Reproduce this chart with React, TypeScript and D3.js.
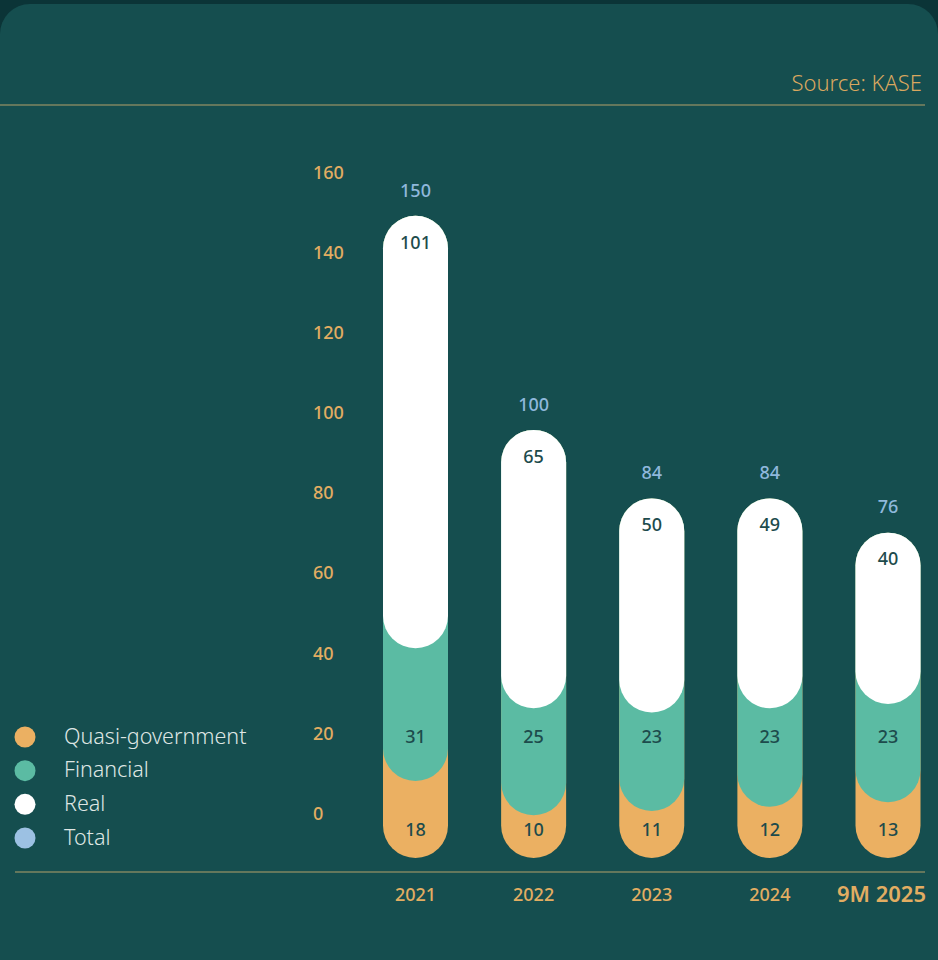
import React, { useEffect, useRef } from "react";
import * as d3 from "d3";

const categories = ["2021", "2022", "2023", "2024", "9M 2025"];
const quasiGov = [18, 10, 11, 12, 13];
const financial = [31, 25, 23, 23, 23];
const real = [101, 65, 50, 49, 40];
const totals = [150, 100, 84, 84, 76];
const yTicks = [0, 20, 40, 60, 80, 100, 120, 140, 160];
const legendItems = [
  { label: "Quasi-government", color: "#ebb062" },
  { label: "Financial", color: "#5bbba3" },
  { label: "Real", color: "#ffffff" },
  { label: "Total", color: "#9cc1e3" }
];

const W = 938;
const H = 960;
const FONT = "'Noto Sans', sans-serif";

const App: React.FC = () => {
  const svgRef = useRef<SVGSVGElement | null>(null);

  useEffect(() => {
    if (!svgRef.current) return;
    const svg = d3.select(svgRef.current);
    svg.selectAll("*").remove();

    // page background + card
    svg.append("rect").attr("width", W).attr("height", H).attr("fill", "#0b3437");
    svg.append("rect")
      .attr("x", 0).attr("y", 4)
      .attr("width", W).attr("height", H + 40)
      .attr("rx", 30)
      .attr("fill", "#154e4f");

    svg.append("text")
      .attr("x", 922).attr("y", 85)
      .attr("text-anchor", "end")
      .attr("dominant-baseline", "middle")
      .attr("font-family", FONT)
      .attr("font-size", 22)
      .attr("font-weight", 300)
      .attr("fill", "#d9a75f")
      .text("Source: KASE");

    svg.append("line")
      .attr("x1", 0).attr("x2", 925)
      .attr("y1", 105).attr("y2", 105)
      .attr("stroke", "#b3a06b").attr("stroke-width", 1.2);

    svg.append("line")
      .attr("x1", 15).attr("x2", 925)
      .attr("y1", 872).attr("y2", 872)
      .attr("stroke", "#b3a06b").attr("stroke-width", 1.2);

    // scales
    const x = d3.scalePoint<string>().domain(categories).range([415.5, 888]);
    const bw = 65;
    const y = d3.scaleLinear().domain([0, 160]).range([858, 173]);
    const yLabel = d3.scaleLinear().domain([0, 160]).range([815, 174]);

    // y tick labels
    svg.append("g")
      .selectAll("text")
      .data(yTicks)
      .enter()
      .append("text")
      .attr("x", 313)
      .attr("y", d => yLabel(d))
      .attr("dominant-baseline", "middle")
      .attr("font-family", FONT)
      .attr("font-size", 18)
      .attr("font-weight", 500)
      .attr("fill", "#e2ad62")
      .text(d => d);

    const rows = categories.map((c, i) => ({
      cat: c,
      q: quasiGov[i],
      f: financial[i],
      r: real[i],
      total: totals[i]
    }));

    const bars = svg.append("g");
    const layers = [
      { key: "q", color: "#ebb062", start: (d: any) => 0 },
      { key: "f", color: "#5bbba3", start: (d: any) => d.q },
      { key: "r", color: "#ffffff", start: (d: any) => d.q + d.f }
    ];

    layers.forEach(layer => {
      bars.selectAll(`.bar-${layer.key}`)
        .data(rows)
        .enter()
        .append("rect")
        .attr("class", `bar-${layer.key}`)
        .attr("x", d => (x(d.cat) as number) - bw / 2)
        .attr("width", bw)
        .attr("y", d => y(d.q + d.f + d.r))
        .attr("height", d => y(layer.start(d)) - y(d.q + d.f + d.r))
        .attr("rx", bw / 2)
        .attr("fill", layer.color);
    });

    const valueText = (sel: any) =>
      sel.attr("text-anchor", "middle")
        .attr("dominant-baseline", "middle")
        .attr("font-family", FONT)
        .attr("font-size", 18)
        .attr("font-weight", 500);

    // value labels
    bars.selectAll(".lbl-q").data(rows).enter().append("text")
      .call(valueText)
      .attr("x", d => x(d.cat) as number)
      .attr("y", y(0) - 27)
      .attr("fill", "#1d4b4c")
      .text(d => d.q);

    bars.selectAll(".lbl-f").data(rows).enter().append("text")
      .call(valueText)
      .attr("x", d => x(d.cat) as number)
      .attr("y", y(0) - 120)
      .attr("fill", "#1d4b4c")
      .text(d => d.f);

    bars.selectAll(".lbl-r").data(rows).enter().append("text")
      .call(valueText)
      .attr("x", d => x(d.cat) as number)
      .attr("y", d => y(d.q + d.f + d.r) + 28)
      .attr("fill", "#1d4b4c")
      .text(d => d.r);

    bars.selectAll(".lbl-t").data(rows).enter().append("text")
      .call(valueText)
      .attr("x", d => x(d.cat) as number)
      .attr("y", d => y(d.total) - 24)
      .attr("fill", "#8fb8dc")
      .text(d => d.total);

    // x labels
    svg.append("g")
      .selectAll("text")
      .data(categories)
      .enter()
      .append("text")
      .attr("x", (d, i) => i === categories.length - 1 ? 926 : (x(d) as number))
      .attr("y", 896)
      .attr("text-anchor", (d, i) => i === categories.length - 1 ? "end" : "middle")
      .attr("dominant-baseline", "middle")
      .attr("font-family", FONT)
      .attr("font-size", (d, i) => i === categories.length - 1 ? 22 : 18)
      .attr("font-weight", (d, i) => i === categories.length - 1 ? 600 : 500)
      .attr("fill", "#e2ad62")
      .text(d => d);

    // legend
    const legend = svg.append("g");
    const ly = d3.scalePoint<string>().domain(legendItems.map(d => d.label)).range([737, 838]);
    legendItems.forEach(item => {
      legend.append("circle")
        .attr("cx", 25).attr("cy", ly(item.label) as number)
        .attr("r", 10.5)
        .attr("fill", item.color);
      legend.append("text")
        .attr("x", 64).attr("y", (ly(item.label) as number) + 1)
        .attr("dominant-baseline", "middle")
        .attr("font-family", FONT)
        .attr("font-size", 21.5)
        .attr("font-weight", 300)
        .attr("fill", "#dfe6e4")
        .text(item.label);
    });
  }, []);

  return (
    <svg
      ref={svgRef}
      width={W}
      height={H}
      style={{ position: "absolute", left: 0, top: 0, display: "block" }}
    />
  );
};

export default App;
